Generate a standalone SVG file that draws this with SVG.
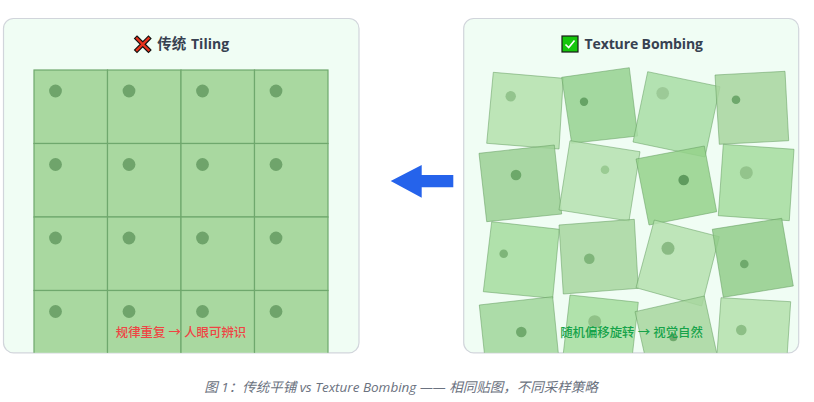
<svg xmlns="http://www.w3.org/2000/svg" width="814" height="402" viewBox="0 0 814 402">
<style>
text{font-family:"Open Sans","Noto Sans CJK SC","Noto Sans",sans-serif}
.panel{fill:#f0fdf4;stroke:#d1d5db;stroke-width:1.2}
.title{font-size:14px;font-weight:700;fill:#374151}
.note{font-size:12.4px;font-weight:500}
.cell{fill:#a9d8a0;stroke:#6fa86d;stroke-width:1.2}
.gd{fill:#6fa46b}
.t polygon{stroke:#5f9a5c;stroke-opacity:.5;stroke-width:1;fill-opacity:.85}
</style>
<defs>
<clipPath id="cl"><rect x="3.5" y="18.5" width="355.5" height="334.3" rx="10"/></clipPath>
<clipPath id="cr"><rect x="463.7" y="18.5" width="335" height="334.3" rx="10"/></clipPath>
<g id="c"><rect class="cell" width="73.5" height="73.5"/><circle class="gd" cx="21.5" cy="21" r="6.4"/></g>
</defs>
<g id="panel-tiling">
<rect class="panel" x="3.5" y="18.5" width="355.5" height="334.3" rx="10"/>
<g id="icon-cross"><path d="M137 38.5L148.5 50M148.5 38.5L137 50" stroke="#111" stroke-width="4.6" stroke-linecap="square" fill="none"/><path d="M137 38.5L148.5 50M148.5 38.5L137 50" stroke="#e8321c" stroke-width="2.4" stroke-linecap="square" fill="none"/></g>
<text class="title" y="49"><tspan x="157.3" font-size="14.5">传统</tspan><tspan x="191">Tiling</tspan></text>
<g clip-path="url(#cl)">
<use href="#c" x="34" y="70"/><use href="#c" x="107.5" y="70"/><use href="#c" x="181" y="70"/><use href="#c" x="254.5" y="70"/>
<use href="#c" x="34" y="143.5"/><use href="#c" x="107.5" y="143.5"/><use href="#c" x="181" y="143.5"/><use href="#c" x="254.5" y="143.5"/>
<use href="#c" x="34" y="217"/><use href="#c" x="107.5" y="217"/><use href="#c" x="181" y="217"/><use href="#c" x="254.5" y="217"/>
<use href="#c" x="34" y="290.5"/><use href="#c" x="107.5" y="290.5"/><use href="#c" x="181" y="290.5"/><use href="#c" x="254.5" y="290.5"/>
</g>
<text class="note" x="181" y="337" text-anchor="middle" fill="#ef4444">规律重复 → 人眼可辨识</text>
</g>
<g id="connectors">
<polygon id="arrow" points="390.7,181 421.7,165 421.7,175 453.3,175 453.3,187.3 421.7,187.3 421.7,197.7" fill="#2563eb"/>
</g>
<g id="panel-bombing">
<rect class="panel" x="463.7" y="18.5" width="335" height="334.3" rx="10"/>
<g id="icon-check"><rect x="562" y="36" width="16" height="16" fill="#16c60c" stroke="#1a1a1a" stroke-width="1.2"/><path d="M565.5 44.5L568.7 47.5L574.5 40.5" fill="none" stroke="#fff" stroke-width="1.6"/></g>
<text class="title" x="584.5" y="49" textLength="118.5">Texture Bombing</text>
<g clip-path="url(#cr)" class="t">
<polygon points="493.3,72.3 563.3,78.3 559,149 486.7,143.3" fill="#b4e0ac"/><circle cx="510.7" cy="96.3" r="5.2" fill="#93c48d"/>
<polygon points="561.7,77.3 629.3,67.7 637.7,136 571.7,143.3" fill="#95d18f"/><circle cx="584" cy="101.7" r="4.2" fill="#66a365"/>
<polygon points="647.7,71.7 720,86.7 705,157 633,142" fill="#a8dda4"/><circle cx="662.7" cy="93.3" r="6.3" fill="#9cca97"/>
<polygon points="715,75 785,71.3 788.7,140.7 719.3,144.3" fill="#a7d59e"/><circle cx="736" cy="99.7" r="4.3" fill="#6ea86c"/>
<polygon points="479,153.3 554.3,145 561.7,214 486.7,221.7" fill="#9bd094"/><circle cx="516" cy="175" r="5.3" fill="#6da86a"/>
<polygon points="570,140.7 640,151.7 629,221 559,210" fill="#b5e1af"/><circle cx="605" cy="169.7" r="4.3" fill="#9acb93"/>
<polygon points="636,159 704.3,146 716.7,211.7 649,225" fill="#94d18a"/><circle cx="683.7" cy="180" r="5.3" fill="#5f9b5e"/>
<polygon points="723.3,144.3 794,149.3 789.3,220.7 718.3,215.7" fill="#a5dc9e"/><circle cx="746.3" cy="172.7" r="6.5" fill="#93c48c"/>
<polygon points="491.7,221.7 559.3,229.3 552.7,298.3 483.3,291.7" fill="#a5dc9e"/><circle cx="503.7" cy="253.7" r="4.3" fill="#7eb579"/>
<polygon points="559,225 634.3,219.3 638.3,288.3 563.3,294" fill="#a7d69f"/><circle cx="589.3" cy="258.7" r="5.3" fill="#7fb57a"/>
<polygon points="654.3,220 719.3,236.7 701.7,306 636,287.7" fill="#b5e1ae"/><circle cx="668" cy="248.3" r="6.5" fill="#8abb84"/>
<polygon points="712.3,229.3 781.7,218.3 793.3,286 723.3,297.3" fill="#92cd89"/><circle cx="744.3" cy="264" r="4.3" fill="#6fa96c"/>
<polygon points="479.3,305 552.7,296.7 560,370 487,378" fill="#a0d69a"/><circle cx="521.3" cy="332" r="5.3" fill="#70aa6d"/>
<polygon points="570,295 638.3,302.3 630,376 561.5,369" fill="#a5dd9d"/><circle cx="594.7" cy="321.7" r="6.5" fill="#90c288"/>
<polygon points="635,311.7 704.3,296 720,368 651,383" fill="#a7d69e"/><circle cx="673.3" cy="337.3" r="4" fill="#6fa96c"/>
<polygon points="721,297.7 790.7,301.7 786,372 716,368" fill="#b4e0ac"/><circle cx="741.3" cy="330" r="5.3" fill="#8dbf86"/>
</g>
<text class="note" x="631.5" y="337" text-anchor="middle" fill="#16a34a">随机偏移旋转 → 视觉自然</text>
</g>
<text id="caption" x="401" y="391.5" text-anchor="middle" font-size="13.5" font-style="italic" fill="#6b7280">图 1：传统平铺 vs Texture Bombing —— 相同贴图，不同采样策略</text>
</svg>
